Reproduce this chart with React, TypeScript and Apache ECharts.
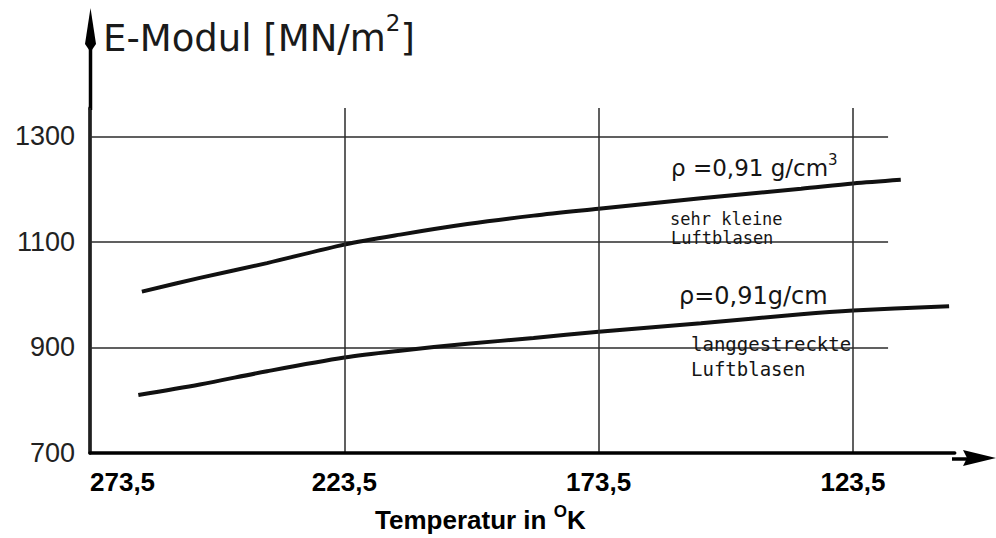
import React, { useEffect, useRef } from 'react';
import * as echarts from 'echarts';

// Temperatures (K), left (warm) to right (cold)
const tempUpper = [263.3, 251.9, 238.7, 223.5, 212.5, 199.3, 186.3, 173.5, 153.4, 133.7, 123.5, 114.1];
const eUpper = [1006, 1032, 1060, 1095, 1114, 1134, 1150, 1163, 1183, 1201, 1211, 1218];

const tempLower = [264.0, 251.9, 238.7, 223.5, 212.5, 199.3, 186.3, 173.5, 153.4, 133.7, 123.5, 104.6];
const eLower = [810, 830, 855, 881, 894, 907, 918, 930, 946, 963, 970, 978];

const REF_T = 273.5; // temperature at the y axis
const xTickStep = 50; // K between labelled temperatures
const xAxisMax = 170; // cooling range drawn (K below 273,5)
const xGridEnd = 156.9; // horizontal grid lines stop here
const yMin = 700;
const yMax = 1354;
const yStep = 200;
const yGridLines = [900, 1100, 1300];

const mono = "'DejaVu Sans Mono', monospace";
const sans = "'DejaVu Sans', sans-serif";
const arial = "'Liberation Sans', Arial, sans-serif";
const ink = '#151515';
const gridColor = '#2b2b2b';

const toX = (t: number) => +(REF_T - t).toFixed(2);

export default function App() {
  const ref = useRef<HTMLDivElement>(null);
  useEffect(() => {
    document.body.style.margin = '0';
    const chart = echarts.init(ref.current!, null, { renderer: 'svg' });
    const splitColors = [gridColor, gridColor, gridColor, gridColor, 'rgba(0,0,0,0)'];
    const option: any = {
      animation: false,
      backgroundColor: '#fff',
      grid: { left: 90, right: 41.3, top: 108, bottom: 79, containLabel: false },
      xAxis: {
        type: 'value',
        min: 0,
        max: xAxisMax,
        interval: xTickStep,
        z: 10,
        axisLine: { show: true, lineStyle: { color: '#000', width: 3.5 } },
        axisTick: { show: false },
        splitLine: { show: true, lineStyle: { color: splitColors, width: 1.5 } },
        axisLabel: {
          formatter: (v: number) => (REF_T - v).toFixed(1).replace('.', ','),
          fontFamily: arial,
          fontWeight: 'bold',
          fontSize: 26,
          color: '#000',
          margin: 16,
          showMaxLabel: false,
          alignMinLabel: 'left',
        },
        name: 'Temperatur in {sup|O}K',
        nameLocation: 'middle',
        nameGap: 67,
        nameTextStyle: {
          fontFamily: arial,
          fontWeight: 'bold',
          fontSize: 26,
          color: '#000',
          verticalAlign: 'middle',
          padding: [0, 84, 0, 0],
          rich: {
            sup: { fontFamily: arial, fontWeight: 'bold', fontSize: 17, color: '#000', padding: [0, 0, 18, 0] },
          },
        },
      },
      yAxis: {
        type: 'value',
        min: yMin,
        max: yMax,
        interval: yStep,
        z: 0,
        axisLine: { show: true, lineStyle: { color: '#000', width: 3.5 } },
        axisTick: { show: false },
        splitLine: { show: false },
        axisLabel: {
          formatter: (v: number) => String(v),
          fontFamily: arial,
          fontSize: 27,
          color: '#222',
          margin: 15,
          showMaxLabel: false,
        },
        name: 'E-Modul [MN/m{sup|2}]',
        nameLocation: 'end',
        nameGap: 70,
        nameTextStyle: {
          align: 'left',
          verticalAlign: 'middle',
          padding: [0, 0, 0, 13],
          fontFamily: sans,
          fontSize: 37,
          color: '#1a1a1a',
          rich: {
            sup: { fontFamily: sans, fontSize: 23, color: '#1a1a1a', padding: [0, 0, 30, 0] },
          },
        },
      },
      series: [
        {
          type: 'line',
          name: 'sehr kleine Luftblasen',
          data: tempUpper.map((t, i) => [toX(t), eUpper[i]]),
          smooth: 0.3,
          symbol: 'none',
          showSymbol: false,
          lineStyle: { color: '#111', width: 4 },
          z: 3,
          markLine: {
            silent: true,
            z: 1,
            symbol: ['none', 'none'],
            label: { show: false },
            lineStyle: { color: gridColor, width: 1.5, type: 'solid' },
            emphasis: { disabled: true },
            data: yGridLines.map((v) => [{ coord: [0, v] }, { coord: [xGridEnd, v] }]),
          },
        },
        {
          type: 'line',
          name: 'langgestreckte Luftblasen',
          data: tempLower.map((t, i) => [toX(t), eLower[i]]),
          smooth: 0.3,
          symbol: 'none',
          showSymbol: false,
          lineStyle: { color: '#111', width: 4 },
          z: 3,
        },
      ],
      graphic: [
        // white paper patch under the bold axis labels
        { type: 'rect', z: 5, shape: { x: 67, y: 467, width: 929, height: 71 }, style: { fill: '#fff' } },
        // axis extensions with arrows
        { type: 'line', z: 6, shape: { x1: 90.5, y1: 110, x2: 90.5, y2: 40 }, style: { stroke: '#000', lineWidth: 3.5 } },
        { type: 'polygon', z: 6, shape: { points: [[90.5, 8], [85, 44], [90.5, 52], [96, 44]] }, style: { fill: '#000' } },
        { type: 'line', z: 6, shape: { x1: 952, y1: 459, x2: 970, y2: 459 }, style: { stroke: '#000', lineWidth: 3.5 } },
        { type: 'polygon', z: 6, shape: { points: [[996, 458], [963, 450], [967, 458], [963, 466]] }, style: { fill: '#000' } },
        // annotations
        {
          type: 'text', z: 6, x: 671, y: 168,
          style: {
            text: 'ρ =0,91 g/cm{sup|3}', fontFamily: sans, fontSize: 23, fill: ink, align: 'left', verticalAlign: 'middle',
            rich: { sup: { fontFamily: sans, fontSize: 15, fill: ink, padding: [0, 0, 16, 0] } },
          },
        },
        { type: 'text', z: 6, x: 670, y: 219, style: { text: 'sehr kleine', fontFamily: mono, fontSize: 17, fill: ink, align: 'left', verticalAlign: 'middle' } },
        { type: 'text', z: 6, x: 671, y: 237.5, style: { text: 'Luftblasen', fontFamily: mono, fontSize: 17, fill: ink, align: 'left', verticalAlign: 'middle' } },
        { type: 'text', z: 6, x: 679, y: 296, style: { text: 'ρ=0,91g/cm', fontFamily: sans, fontSize: 24, fill: ink, align: 'left', verticalAlign: 'middle' } },
        { type: 'text', z: 6, x: 691, y: 344, style: { text: 'langgestreckte', fontFamily: mono, fontSize: 19, fill: ink, align: 'left', verticalAlign: 'middle' } },
        { type: 'text', z: 6, x: 691, y: 369, style: { text: 'Luftblasen', fontFamily: mono, fontSize: 19, fill: ink, align: 'left', verticalAlign: 'middle' } },
      ],
    };
    chart.setOption(option);
    return () => chart.dispose();
  }, []);
  return <div ref={ref} style={{ width: 996, height: 538 }} />;
}
